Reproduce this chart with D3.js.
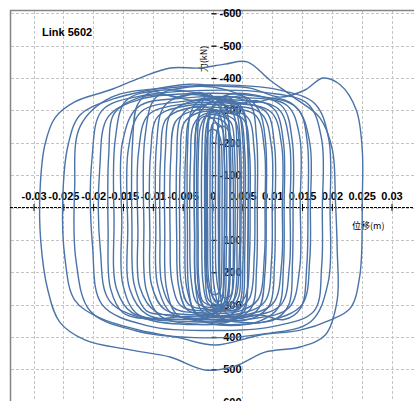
<!DOCTYPE html>
<html>
<head>
<meta charset="utf-8">
<script src="https://cdn.jsdelivr.net/npm/d3@7"></script>
<style>
body { margin: 0; background: #fff; }
svg { display: block; font-family: "Liberation Sans", Arial, sans-serif; }
</style>
</head>
<body>
<script>
const width = 414;
const height = 401;

// tick values and texts
const xTicks = [-0.03, -0.025, -0.02, -0.015, -0.01, -0.005, 0, 0.005, 0.01, 0.015, 0.02, 0.025, 0.03];
const yTicks = [-600, -500, -400, -300, -200, -100, 0, 100, 200, 300, 400, 500, 600];
const chartTitle = 'Link 5602';
const xLabel = '位移(m)';
const yLabel = '力(kN)';

// hysteresis loops, [displacement (m), force (kN)]
const outerLoops = [
  [[0.0206,-23],[0.0201,-178],[0.0180,-277],[0.0138,-338],[0.0096,-394],[0.0058,-450],[0.0021,-443],[-0.0021,-431],[-0.0071,-431],[-0.0122,-400],[-0.0172,-363],[-0.0231,-326],[-0.0264,-277],[-0.0281,-193],[-0.0289,-54],[-0.0288,100],[-0.0276,255],[-0.0256,354],[-0.0214,409],[-0.0138,440],[-0.0071,462],[-0.0013,502],[0.0038,490],[0.0088,447],[0.0147,431],[0.0189,394],[0.0209,286],[0.0209,131]],
  [[0.0251,-23],[0.0251,-178],[0.0241,-301],[0.0214,-379],[0.0185,-400],[0.0155,-363],[0.0113,-341],[0.0063,-369],[0.0013,-375],[-0.0038,-381],[-0.0105,-363],[-0.0172,-332],[-0.0222,-286],[-0.0242,-193],[-0.0251,-23],[-0.0247,162],[-0.0231,286],[-0.0189,341],[-0.0122,379],[-0.0055,403],[0.0004,425],[0.0080,394],[0.0147,379],[0.0197,348],[0.0231,311],[0.0247,209]],
  [[0.0197,0],[0.0195,-210],[0.0172,-320],[0.0115,-362],[0.0030,-378],[-0.0070,-370],[-0.0170,-340],[-0.0222,-250],[-0.0231,-60],[-0.0229,160],[-0.0205,320],[-0.0130,380],[-0.0030,402],[0.0080,392],[0.0165,352],[0.0194,230]]
];

const middleLoops = [
  [[0.0184,10],[0.0183,-210],[0.0160,-320],[0.0090,-355],[-0.0010,-362],[-0.0120,-345],[-0.0185,-300],[-0.0202,-150],[-0.0201,120],[-0.0185,300],[-0.0110,365],[-0.0010,380],[0.0100,368],[0.0170,320],[0.0183,180]],
  [[0.0164,0],[0.0163,-200],[0.0140,-310],[0.0070,-345],[-0.0030,-352],[-0.0120,-335],[-0.0175,-280],[-0.0189,-120],[-0.0188,130],[-0.0172,290],[-0.0100,350],[0.0000,362],[0.0090,352],[0.0150,300],[0.0163,160]],
  [[0.0147,-10],[0.0146,-220],[0.0125,-315],[0.0050,-340],[-0.0050,-338],[-0.0125,-310],[-0.0151,-200],[-0.0152,40],[-0.0150,240],[-0.0125,330],[-0.0040,352],[0.0060,345],[0.0128,310],[0.0146,190]],
  [[0.0130,0],[0.0129,-200],[0.0110,-305],[0.0040,-332],[-0.0050,-328],[-0.0120,-295],[-0.0141,-180],[-0.0142,60],[-0.0139,250],[-0.0110,330],[-0.0030,346],[0.0060,338],[0.0115,300],[0.0129,180]],
  [[0.0117,5],[0.0116,-190],[0.0098,-295],[0.0030,-322],[-0.0055,-318],[-0.0108,-285],[-0.0124,-170],[-0.0125,70],[-0.0122,245],[-0.0095,322],[-0.0020,338],[0.0055,332],[0.0102,295],[0.0116,170]],
  [[0.0030,0],[0.0029,-200],[0.0018,-320],[-0.0030,-355],[-0.0090,-362],[-0.0145,-330],[-0.0163,-210],[-0.0165,40],[-0.0161,250],[-0.0135,325],[-0.0070,345],[-0.0010,338],[0.0022,300],[0.0029,170]],
  [[0.0135,0],[0.0134,-200],[0.0118,-310],[0.0070,-348],[0.0020,-345],[-0.0004,-300],[-0.0009,-180],[-0.0010,70],[-0.0007,250],[0.0010,335],[0.0060,356],[0.0105,345],[0.0128,300],[0.0134,170]],
  [[0.0075,0],[0.0074,-210],[0.0062,-325],[0.0020,-365],[-0.0040,-372],[-0.0095,-340],[-0.0113,-220],[-0.0115,50],[-0.0111,255],[-0.0088,335],[-0.0030,360],[0.0030,352],[0.0065,310],[0.0074,180]],
  [[0.0090,0],[0.0089,-200],[0.0078,-300],[0.0050,-345],[0.0015,-330],[-0.0020,-355],[-0.0060,-340],[-0.0100,-358],[-0.0125,-320],[-0.0134,-200],[-0.0135,60],[-0.0131,240],[-0.0110,320],[-0.0070,332],[-0.0030,345],[0.0010,335],[0.0050,342],[0.0078,310],[0.0088,200]],
  [[0.0120,0],[0.0119,-200],[0.0105,-300],[0.0075,-330],[0.0040,-320],[0.0005,-338],[-0.0040,-325],[-0.0070,-290],[-0.0079,-170],[-0.0080,70],[-0.0077,250],[-0.0060,330],[-0.0020,352],[0.0030,365],[0.0080,350],[0.0110,310],[0.0119,180]],
  [[0.0060,0],[0.0059,-200],[0.0048,-305],[0.0015,-340],[-0.0030,-330],[-0.0080,-348],[-0.0130,-335],[-0.0165,-290],[-0.0174,-160],[-0.0175,70],[-0.0171,250],[-0.0150,325],[-0.0100,345],[-0.0050,338],[0.0000,355],[0.0040,340],[0.0055,300],[0.0059,160]],
  [[0.0160,0],[0.0159,-200],[0.0145,-300],[0.0110,-338],[0.0070,-325],[0.0030,-342],[-0.0005,-325],[-0.0024,-280],[-0.0030,-160],[-0.0030,70],[-0.0027,250],[-0.0010,320],[0.0030,340],[0.0080,332],[0.0120,346],[0.0148,310],[0.0158,180]]
];

const innerLoops = [
  [[0.0100,0],[0.0099,-185],[0.0082,-290],[0.0020,-316],[-0.0050,-312],[-0.0092,-280],[-0.0104,-160],[-0.0105,80],[-0.0102,240],[-0.0080,315],[-0.0015,333],[0.0050,326],[0.0088,290],[0.0099,160]],
  [[0.0088,0],[0.0087,-180],[0.0072,-285],[0.0015,-308],[-0.0045,-305],[-0.0078,-272],[-0.0087,-150],[-0.0088,90],[-0.0085,235],[-0.0065,310],[-0.0010,326],[0.0045,320],[0.0076,285],[0.0087,150]],
  [[0.0052,0],[0.0051,-200],[0.0040,-305],[0.0000,-340],[-0.0050,-346],[-0.0082,-310],[-0.0094,-190],[-0.0095,60],[-0.0092,240],[-0.0070,325],[-0.0020,345],[0.0025,338],[0.0045,300],[0.0051,170]],
  [[0.0105,0],[0.0104,-190],[0.0090,-295],[0.0040,-326],[-0.0005,-322],[-0.0036,-285],[-0.0045,-160],[-0.0046,80],[-0.0043,250],[-0.0025,330],[0.0020,350],[0.0070,340],[0.0096,300],[0.0104,170]],
  [[0.0071,0],[0.0070,-175],[0.0058,-280],[0.0012,-300],[-0.0035,-298],[-0.0062,-265],[-0.0070,-150],[-0.0071,90],[-0.0068,230],[-0.0052,305],[-0.0005,320],[0.0040,314],[0.0062,280],[0.0070,150]],
  [[0.0063,0],[0.0062,-170],[0.0052,-272],[0.0015,-295],[-0.0025,-292],[-0.0048,-260],[-0.0054,-140],[-0.0055,90],[-0.0053,225],[-0.0040,300],[-0.0005,315],[0.0035,310],[0.0055,275],[0.0062,150]],
  [[0.0020,0],[0.0019,-180],[0.0012,-285],[-0.0012,-310],[-0.0040,-306],[-0.0055,-270],[-0.0060,-150],[-0.0060,90],[-0.0057,240],[-0.0043,315],[-0.0015,330],[0.0008,322],[0.0016,285],[0.0019,160]],
  [[0.0046,0],[0.0045,-170],[0.0038,-268],[0.0012,-290],[-0.0015,-288],[-0.0032,-255],[-0.0037,-140],[-0.0038,90],[-0.0036,220],[-0.0026,295],[0.0002,310],[0.0028,305],[0.0040,270],[0.0045,150]],
  [[0.0055,0],[0.0054,-175],[0.0046,-278],[0.0025,-300],[0.0008,-296],[0.0001,-260],[0.0000,-140],[0.0000,90],[0.0002,235],[0.0012,305],[0.0030,320],[0.0046,312],[0.0052,275],[0.0054,150]],
  [[0.0038,0],[0.0037,-165],[0.0031,-262],[0.0010,-285],[-0.0010,-283],[-0.0020,-250],[-0.0024,-140],[-0.0024,90],[-0.0023,220],[-0.0016,290],[0.0005,305],[0.0024,300],[0.0033,265],[0.0037,150]],
  [[0.0029,0],[0.0028,-160],[0.0024,-255],[0.0008,-275],[-0.0006,-273],[-0.0011,-240],[-0.0013,-130],[-0.0013,90],[-0.0012,215],[-0.0007,285],[0.0006,300],[0.0020,295],[0.0026,260],[0.0028,150]],
  [[0.0021,0],[0.0020,-150],[0.0017,-240],[0.0008,-260],[0.0000,-258],[-0.0003,-230],[-0.0004,-120],[-0.0004,90],[-0.0003,210],[0.0001,278],[0.0009,290],[0.0016,285],[0.0019,250],[0.0020,140]]
];

const coreLoops = [
  [[0.0030,0],[0.0030,-170],[0.0026,-270],[0.0012,-298],[-0.0004,-300],[-0.0014,-265],[-0.0018,-150],[-0.0018,80],[-0.0016,230],[-0.0008,295],[0.0008,312],[0.0022,300],[0.0028,250],[0.0030,130]],
  [[0.0042,0],[0.0041,-180],[0.0036,-285],[0.0020,-318],[0.0004,-315],[-0.0005,-280],[-0.0008,-160],[-0.0008,80],[-0.0006,230],[0.0004,290],[0.0020,302],[0.0034,290],[0.0040,240],[0.0041,120]],
  [[0.0012,0],[0.0012,-160],[0.0008,-255],[-0.0004,-280],[-0.0018,-278],[-0.0027,-245],[-0.0030,-140],[-0.0030,90],[-0.0028,250],[-0.0020,315],[-0.0006,330],[0.0006,318],[0.0011,270],[0.0012,140]],
  [[0.0035,0],[0.0034,-140],[0.0030,-225],[0.0020,-250],[0.0010,-247],[0.0006,-215],[0.0005,-120],[0.0005,80],[0.0006,200],[0.0012,265],[0.0022,280],[0.0031,270],[0.0034,220],[0.0035,120]],
  [[0.0016,0],[0.0016,-140],[0.0013,-215],[0.0004,-240],[-0.0005,-238],[-0.0010,-205],[-0.0012,-110],[-0.0012,80],[-0.0011,195],[-0.0006,255],[0.0003,270],[0.0012,260],[0.0015,210],[0.0016,110]],
  [[0.0024,0],[0.0023,-190],[0.0016,-300],[-0.0005,-330],[-0.0025,-326],[-0.0037,-290],[-0.0042,-170],[-0.0042,70],[-0.0040,250],[-0.0030,325],[-0.0010,340],[0.0010,332],[0.0020,290],[0.0023,150]],
  [[0.0060,0],[0.0059,-190],[0.0052,-300],[0.0035,-330],[0.0018,-325],[0.0011,-285],[0.0010,-160],[0.0010,80],[0.0012,250],[0.0020,320],[0.0038,336],[0.0053,322],[0.0058,280],[0.0059,140]],
  [[0.0048,0],[0.0047,-190],[0.0040,-300],[0.0025,-345],[0.0008,-335],[-0.0008,-352],[-0.0020,-310],[-0.0026,-180],[-0.0026,70],[-0.0024,240],[-0.0015,305],[0.0005,320],[0.0030,312],[0.0044,275],[0.0047,140]]
];

const xScale = d3.scaleLinear().domain([-0.03, 0.03]).range([33.5, 391.5]);
const yScale = d3.scaleLinear().domain([-600, 600]).range([13.3, 401.7]);
const x0 = xScale(0);
const y0 = yScale(0);

const svg = d3.select('body').append('svg')
    .attr('width', width)
    .attr('height', height);

svg.append('defs').append('clipPath')
    .attr('id', 'plotClip')
    .append('rect')
    .attr('x', 10).attr('y', 10)
    .attr('width', width - 10).attr('height', height - 10);

// dashed grid
const grid = svg.append('g').attr('stroke', '#c4c4c4').attr('stroke-dasharray', '3,2');
grid.selectAll('.vg')
    .data(xTicks)
    .enter()
    .append('line')
    .attr('x1', d => Math.round(xScale(d)) + 0.5)
    .attr('x2', d => Math.round(xScale(d)) + 0.5)
    .attr('y1', 11)
    .attr('y2', height);
grid.selectAll('.hg')
    .data(yTicks)
    .enter()
    .append('line')
    .attr('x1', 11)
    .attr('x2', width)
    .attr('y1', d => Math.round(yScale(d)) + 0.5)
    .attr('y2', d => Math.round(yScale(d)) + 0.5);

// frame
svg.append('path')
    .attr('d', `M10.5,${height} V10.5 H${width}`)
    .attr('fill', 'none')
    .attr('stroke', '#858585')
    .attr('stroke-width', 1.5);

// x axis (through force = 0)
const xAxis = d3.axisBottom(xScale)
    .tickValues(xTicks)
    .tickSize(0)
    .tickFormat(d => d === 0 ? '0' : String(+d.toFixed(3)));

const gx = svg.append('g')
    .attr('transform', `translate(0, ${Math.round(y0) - 0.5})`)
    .call(xAxis);
gx.select('.domain').remove();
gx.append('line')
    .attr('x1', 10).attr('x2', width)
    .attr('stroke', '#000')
    .attr('stroke-dasharray', '3,1');
gx.selectAll('.tick line')
    .attr('y1', -3.5).attr('y2', 3.5)
    .attr('stroke', '#000');
gx.selectAll('.tick text')
    .attr('y', -8)
    .attr('dy', 0)
    .attr('fill', '#000')
    .attr('font-size', 11)
    .attr('font-weight', 'bold')
    .attr('font-family', '"Liberation Sans", Arial, sans-serif');

// y axis (through displacement = 0), force negative upward
const yAxis = d3.axisRight(yScale)
    .tickValues(yTicks.filter(d => d !== 0))
    .tickSize(0)
    .tickFormat(d => String(d));

const gy = svg.append('g')
    .attr('transform', `translate(${Math.round(x0) - 1.5}, 0)`)
    .call(yAxis);
gy.select('.domain').remove();
gy.selectAll('.tick line')
    .attr('x1', 0).attr('x2', 5)
    .attr('stroke', '#000')
    .attr('stroke-width', 1.3);
gy.selectAll('.tick text')
    .attr('x', 30)
    .attr('text-anchor', 'end')
    .attr('fill', '#000')
    .attr('font-size', 11)
    .attr('font-weight', 'bold')
    .attr('font-family', '"Liberation Sans", Arial, sans-serif');

// axis titles
svg.append('text')
    .text(yLabel)
    .attr('transform', `translate(207, 59) rotate(-90)`)
    .attr('text-anchor', 'middle')
    .attr('font-size', 9)
    .attr('font-family', '"Noto Sans CJK SC", sans-serif')
    .attr('fill', '#000');

svg.append('text')
    .text(xLabel)
    .attr('x', 352)
    .attr('y', 229)
    .attr('font-size', 9)
    .attr('font-family', '"Noto Sans CJK SC", sans-serif')
    .attr('fill', '#000');

// hysteresis loops
const line = d3.line()
    .x(d => xScale(d[0]))
    .y(d => yScale(d[1]))
    .curve(d3.curveCatmullRomClosed.alpha(0.5));

const curves = svg.append('g').attr('clip-path', 'url(#plotClip)');
curves.selectAll('path')
    .data(outerLoops.concat(middleLoops, innerLoops, coreLoops))
    .enter()
    .append('path')
    .attr('d', line)
    .attr('fill', 'none')
    .attr('stroke', '#4a73a8')
    .attr('stroke-width', 1.4);

svg.append('text')
    .text(chartTitle)
    .attr('x', 42)
    .attr('y', 36)
    .attr('font-size', 11)
    .attr('font-weight', 'bold')
    .attr('fill', '#000');
</script>
</body>
</html>
